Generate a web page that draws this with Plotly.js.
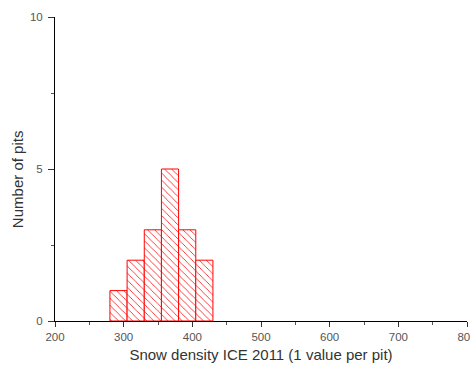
<!DOCTYPE html>
<html><head><meta charset="utf-8">
<script src="https://cdn.plot.ly/plotly-3.0.1.min.js"></script>
<style>html,body{margin:0;padding:0;background:#fff;overflow:hidden}#c{width:470px;height:367px}</style>
</head><body><div id="c"></div>
<script>
const binStarts = [280, 305, 330, 355, 380, 405];
const binWidth = 25;
const counts = [1, 2, 3, 5, 3, 2];
const xTickVals = [200, 300, 400, 500, 600, 700, 800];
const yTickVals = [0, 5, 10];
const yTitle = 'Number of pits';

const centers = binStarts.map(s => s + binWidth / 2);
const trace = {
  type: 'bar', x: centers, y: counts, width: binWidth,
  marker: {
    color: '#ffffff',
    line: {color: '#ff0000', width: 1},
    pattern: {shape: '\\', fgcolor: '#ff0000', bgcolor: '#ffffff', size: 5, solidity: 0.15}
  },
  hoverinfo: 'skip'
};
const layout = {
  width: 470, height: 367,
  margin: {l: 55, r: 3, t: 17, b: 46},
  paper_bgcolor: '#fff', plot_bgcolor: '#fff',
  showlegend: false,
  font: {family: 'Liberation Sans, Arial, sans-serif', color: '#333'},
  xaxis: {
    range: [200, 800], tickvals: xTickVals, ticktext: xTickVals.map(String),
    showgrid: false, zeroline: false, showline: true, linecolor: '#000', linewidth: 1,
    ticks: 'outside', ticklen: 5, tickcolor: '#333', tickwidth: 1,
    ticklabeloverflow: 'allow',
    minor: {dtick: 50, ticks: 'outside', ticklen: 3, tickcolor: '#555', showgrid: false},
    tickfont: {size: 11.5, color: '#555'},
    title: {text: 'Snow density ICE 2011 (1 value per pit)', font: {size: 15, color: '#333'}, standoff: 7}
  },
  yaxis: {
    range: [0, 10], tickvals: yTickVals, ticktext: yTickVals.map(String),
    showgrid: false, zeroline: false, showline: true, linecolor: '#000', linewidth: 1,
    ticks: 'outside', ticklen: 6, tickcolor: '#333', tickwidth: 1,
    ticklabelstandoff: 3,
    minor: {dtick: 2.5, ticks: 'outside', ticklen: 3, tickcolor: '#555', showgrid: false},
    tickfont: {size: 11.5, color: '#555'}
  },
  annotations: [{
    text: yTitle, xref: 'paper', yref: 'paper', x: -0.092, y: 0.467,
    xanchor: 'center', yanchor: 'middle', textangle: -90, showarrow: false,
    font: {size: 15, color: '#333'}
  }]
};
Plotly.newPlot('c', [trace], layout, {displayModeBar: false, staticPlot: true});
</script></body></html>
